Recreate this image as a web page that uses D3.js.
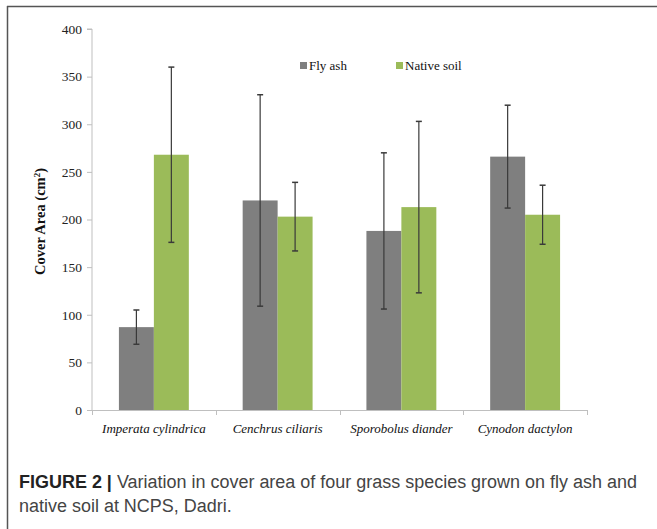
<!DOCTYPE html>
<html>
<head>
<meta charset="utf-8">
<script src="https://cdn.jsdelivr.net/npm/d3@7/dist/d3.min.js"></script>
<style>
  html, body { margin: 0; padding: 0; background: #fff; }
  svg { display: block; }
</style>
</head>
<body>
<svg id="chart" width="657" height="529"></svg>
<script>
// Species grown on each substrate
const species = ["Imperata cylindrica", "Cenchrus ciliaris", "Sporobolus diander", "Cynodon dactylon"];
const seriesNames = ["Fly ash", "Native soil"];
// Mean cover area (cm²)
const flyAshMean = [87, 220, 188, 266];
const nativeSoilMean = [268, 203, 213, 205];
// Error bar half-widths (± SD)
const flyAshErr = [18, 111, 82, 54];
const nativeSoilErr = [92, 36, 90, 31];
const yTicks = [0, 50, 100, 150, 200, 250, 300, 350, 400];

const colors = { "Fly ash": "#7f7f7f", "Native soil": "#9bbb59" };
const serif = "'Liberation Serif', 'Times New Roman', serif";
const sans = "'Liberation Sans', Arial, Helvetica, sans-serif";

const rows = species.map((s, i) => ({
  species: s,
  values: [
    { key: "Fly ash", mean: flyAshMean[i], err: flyAshErr[i] },
    { key: "Native soil", mean: nativeSoilMean[i], err: nativeSoilErr[i] }
  ]
}));

const svg = d3.select("#chart");

// Figure frame: top and left rules
svg.append("line").attr("x1", 7).attr("x2", 657).attr("y1", 6.5).attr("y2", 6.5)
  .attr("stroke", "#555").attr("stroke-width", 1.5);
svg.append("line").attr("x1", 7.5).attr("x2", 7.5).attr("y1", 6).attr("y2", 529)
  .attr("stroke", "#555").attr("stroke-width", 1.5);

const plot = { left: 92, right: 587, top: 29, bottom: 410 };

const x0 = d3.scaleBand().domain(species).range([plot.left, plot.right]).paddingInner(0).paddingOuter(0);
const x1 = d3.scaleBand().domain(seriesNames).range([0, x0.bandwidth()]).paddingInner(0).paddingOuter(0.77);
const y = d3.scaleLinear().domain([0, 400]).range([plot.bottom, plot.top]);

// Y axis
const yAxis = svg.append("g").attr("transform", `translate(${plot.left},0)`)
  .call(d3.axisLeft(y).tickValues(yTicks).tickSize(5).tickPadding(5).tickFormat(d3.format("d")));
yAxis.select(".domain").attr("stroke", "#bfbfbf").attr("d", `M-5,${y(400)}H0V${y(0)}`);
yAxis.selectAll(".tick line").attr("stroke", "#bfbfbf");
yAxis.selectAll(".tick text").attr("font-family", serif).attr("font-size", 13.5).attr("fill", "#222");

// X axis baseline with ticks at category boundaries
const xAxisG = svg.append("g");
xAxisG.append("line").attr("x1", plot.left).attr("x2", plot.right)
  .attr("y1", plot.bottom + 0.5).attr("y2", plot.bottom + 0.5).attr("stroke", "#bfbfbf");
const boundaries = species.map(s => x0(s)).concat([x0(species[species.length - 1]) + x0.bandwidth()]);
xAxisG.selectAll("line.tk").data(boundaries).join("line").attr("class", "tk")
  .attr("x1", d => Math.round(d) + 0.5).attr("x2", d => Math.round(d) + 0.5)
  .attr("y1", plot.bottom).attr("y2", plot.bottom + 5).attr("stroke", "#bfbfbf");
xAxisG.selectAll("text").data(species).join("text")
  .attr("x", d => x0(d) + x0.bandwidth() / 2)
  .attr("y", plot.bottom + 23)
  .attr("text-anchor", "middle")
  .attr("font-family", serif).attr("font-style", "italic").attr("font-size", 13)
  .attr("fill", "#111")
  .text(d => d);

// Bars
const groups = svg.append("g").selectAll("g").data(rows).join("g")
  .attr("transform", d => `translate(${x0(d.species)},0)`);
groups.selectAll("rect").data(d => d.values).join("rect")
  .attr("x", d => x1(d.key))
  .attr("width", x1.bandwidth())
  .attr("y", d => y(d.mean))
  .attr("height", d => y(0) - y(d.mean))
  .attr("fill", d => colors[d.key]);

// Error bars
const eb = groups.selectAll("g.err").data(d => d.values).join("g").attr("class", "err")
  .attr("transform", d => `translate(${x1(d.key) + x1.bandwidth() / 2},0)`);
eb.append("line").attr("x1", 0).attr("x2", 0)
  .attr("y1", d => y(d.mean + d.err)).attr("y2", d => y(d.mean - d.err))
  .attr("stroke", "#3a3a3a").attr("stroke-width", 1.2);
eb.selectAll("line.cap").data(d => [d.mean + d.err, d.mean - d.err]).join("line").attr("class", "cap")
  .attr("x1", -3).attr("x2", 3).attr("y1", v => y(v)).attr("y2", v => y(v))
  .attr("stroke", "#3a3a3a").attr("stroke-width", 1.5);

// Y axis title
svg.append("text")
  .attr("transform", `translate(45,${(plot.top + plot.bottom) / 2 + 2}) rotate(-90)`)
  .attr("text-anchor", "middle")
  .attr("font-family", serif).attr("font-weight", "bold").attr("font-size", 14.5)
  .attr("fill", "#111")
  .html("Cover Area (cm<tspan dy='-5' font-size='9'>2</tspan><tspan dy='5'>)</tspan>");

// Legend
const legendPos = [300, 396];
const legend = svg.append("g").selectAll("g").data(seriesNames).join("g")
  .attr("transform", (d, i) => `translate(${legendPos[i]},62)`);
legend.append("rect").attr("width", 7).attr("height", 7).attr("fill", d => colors[d]);
legend.append("text").attr("x", 9).attr("y", 7.5)
  .attr("font-family", serif).attr("font-size", 13).attr("fill", "#111")
  .text(d => d);

// Caption
const cap = svg.append("g").attr("font-family", sans).attr("fill", "#444").attr("font-size", 15.5);
const l1 = cap.append("text").attr("x", 19).attr("y", 488);
l1.append("tspan").attr("font-weight", "bold").attr("fill", "#222").text("FIGURE 2 | ");
l1.append("tspan").text("Variation in cover area of four grass species grown on fly ash and");
cap.append("text").attr("x", 19).attr("y", 512).text("native soil at NCPS, Dadri.");
// Fit the first caption line to the text column width
const w = l1.node().getComputedTextLength();
const target = 618;
cap.attr("font-size", 15.5 * target / w);
</script>
</body>
</html>
